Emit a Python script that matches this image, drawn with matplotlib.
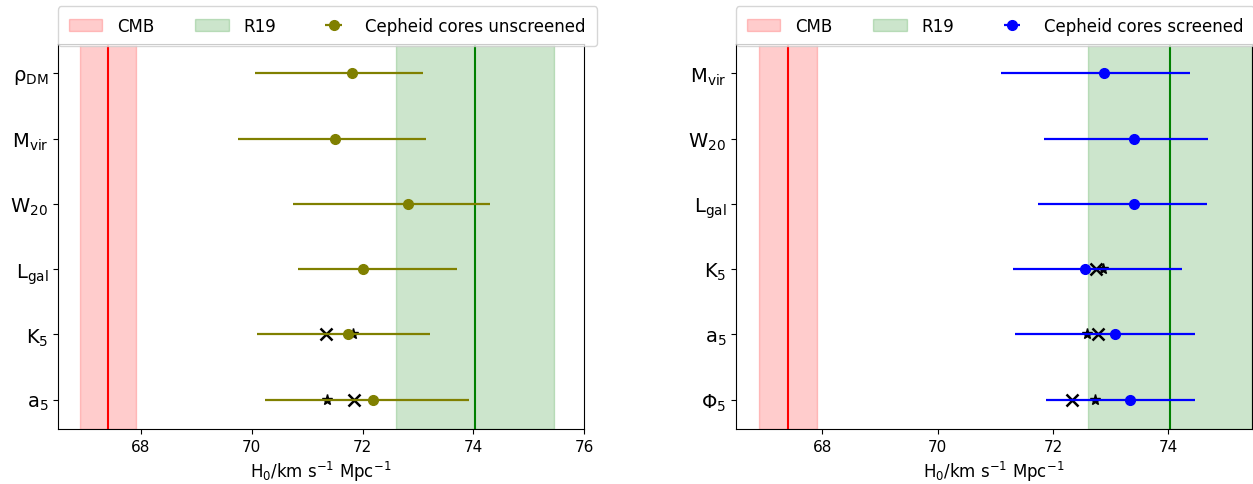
import numpy as np
import matplotlib
matplotlib.use("Agg")
import matplotlib.pyplot as plt

# ── Reference values ─────────────────────────────────────────────────────────
H0_CMB, H0_CMB_ERR = 67.4, 0.5
H0_R19, H0_R19_ERR = 74.03, 1.42

# ── Left panel: Cepheid cores unscreened ─────────────────────────────────────
left_labels = ['ρ$_{\\rm DM}$', 'M$_{\\rm vir}$', 'W$_{20}$', 'L$_{\\rm gal}$', 'K$_5$', 'a$_5$']
left_h0 = [71.81, 71.50, 72.82, 72.01, 71.73, 72.19]
left_lo = [70.05, 69.75, 70.74, 70.84, 70.10, 70.23]
left_hi = [73.09, 73.15, 74.30, 73.70, 73.21, 73.93]
left_x_rows = [4, 5]
left_x_vals = [71.34, 71.85]
left_star_rows = [4, 5]
left_star_vals = [71.82, 71.35]
left_ticks = [68, 70, 72, 74, 76]

# ── Right panel: Cepheid cores screened ──────────────────────────────────────
right_labels = ['M$_{\\rm vir}$', 'W$_{20}$', 'L$_{\\rm gal}$', 'K$_5$', 'a$_5$', 'Φ$_5$']
right_h0 = [72.88, 73.40, 73.40, 72.55, 73.07, 73.33]
right_lo = [71.09, 71.85, 71.73, 71.30, 71.34, 71.87]
right_hi = [74.37, 74.68, 74.67, 74.23, 74.47, 74.47]
right_x_rows = [3, 4, 5]
right_x_vals = [72.75, 72.78, 72.32]
right_star_rows = [3, 4, 5]
right_star_vals = [72.86, 72.58, 72.72]
right_ticks = [68, 70, 72, 74]


def panel(ax, labels, h0, lo, hi, xrows, xvals, srows, svals, color, name, xlim, ticks):
    y = np.arange(len(labels))
    h0 = np.array(h0)
    xerr = [h0 - np.array(lo), np.array(hi) - h0]

    ax.axvspan(H0_CMB - H0_CMB_ERR, H0_CMB + H0_CMB_ERR, color='red', alpha=0.2, label='CMB')
    ax.axvline(H0_CMB, color='red', lw=1.5)
    ax.axvspan(H0_R19 - H0_R19_ERR, H0_R19 + H0_R19_ERR, color='green', alpha=0.2, label='R19')
    ax.axvline(H0_R19, color='green', lw=1.5)

    ax.plot(xvals, xrows, 'x', color='k', ms=8, mew=1.8, zorder=3)
    ax.plot(svals, srows, '*', color='k', ms=8, zorder=3)
    ax.errorbar(h0, y, xerr=xerr, fmt='o', color=color, ms=7, lw=1.6, zorder=4, label=name)

    ax.set_yticks(y)
    ax.set_yticklabels(labels, fontsize=14)
    ax.set_ylim(5.45, -0.45)
    ax.set_xlim(*xlim)
    ax.set_xticks(ticks)
    ax.tick_params(axis='x', labelsize=11)
    ax.set_xlabel(r'H$_0$/km s$^{-1}$ Mpc$^{-1}$', fontsize=12)
    ax.legend(loc='lower left', bbox_to_anchor=(0.0, 0.995), ncol=3, fontsize=12,
              borderaxespad=0.0, columnspacing=2.45, handletextpad=0.9, borderpad=0.65)


fig = plt.figure(figsize=(12.53, 4.85), dpi=100)
ax1 = fig.add_axes([58 / 1253, 55 / 485, 526 / 1253, 385 / 485])
ax2 = fig.add_axes([736 / 1253, 55 / 485, 516 / 1253, 385 / 485])

panel(ax1, left_labels, left_h0, left_lo, left_hi, left_x_rows, left_x_vals,
      left_star_rows, left_star_vals, 'olive', 'Cepheid cores unscreened', (66.5, 76.0), left_ticks)
panel(ax2, right_labels, right_h0, right_lo, right_hi, right_x_rows, right_x_vals,
      right_star_rows, right_star_vals, 'blue', 'Cepheid cores screened', (66.5, 75.45), right_ticks)

fig.savefig('out.png', dpi=100)
